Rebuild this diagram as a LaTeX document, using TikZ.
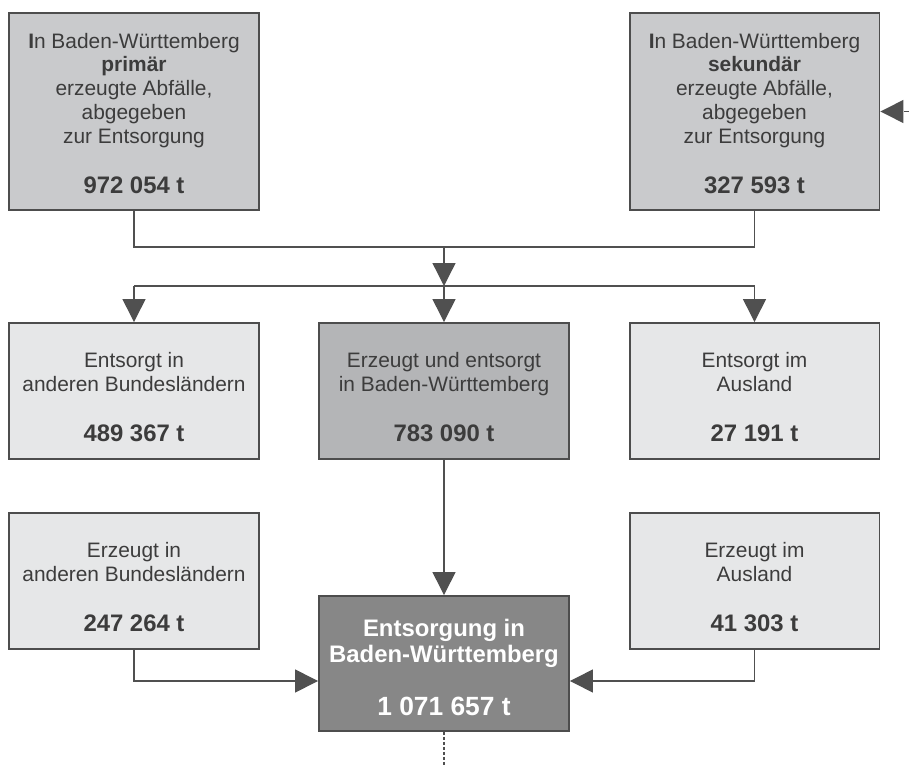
\documentclass[tikz,border=0pt]{standalone}
\usepackage{fontspec}
\setmainfont{Liberation Sans}
\usepackage{xcolor}
\usetikzlibrary{arrows.meta, positioning}

\definecolor{rand}{HTML}{4D4D4D}
\definecolor{strich}{HTML}{505050}
\definecolor{schrift}{HTML}{3C3C3C}
\definecolor{grauA}{HTML}{C9CACC}
\definecolor{grauB}{HTML}{B4B5B7}
\definecolor{grauC}{HTML}{E6E7E8}
\definecolor{grauD}{HTML}{878787}

\tikzset{
	kasten/.style={draw=rand, line width=1.1pt, minimum width=5cm, inner sep=0pt},
	hoch/.style={kasten, minimum height=3.94cm},
	flach/.style={kasten, minimum height=2.72cm},
	txt/.style={align=center, text=schrift, inner sep=0pt, font=\fontsize{11.9}{13.5}\selectfont},
	linie/.style={draw=strich, line width=0.75pt},
	fluss/.style={linie, -{Triangle[length=0.46cm,width=0.46cm]}},
}
\newcommand{\tonnen}[1]{{\fontsize{13.6}{13.5}\selectfont\bfseries #1}}

\begin{document}
\begin{tikzpicture}[x=0.02cm, y=-0.02cm]
	\useasboundingbox (0,0) rectangle (909,767);
	
	\begin{scope}
		\node[hoch, fill=grauA] (prim) at (134,111.5) {};
		\node[hoch, fill=grauA] (sek) at (754.5,111.5) {};
		
		\node[flach, fill=grauC] (ausL) at (134,391) {};
		\node[flach, fill=grauB] (bw) at (444,391) {};
		\node[flach, fill=grauC] (ausR) at (754.5,391) {};
		
		\node[flach, fill=grauC] (erzL) at (134,581) {};
		\node[flach, fill=grauC] (erzR) at (754.5,581) {};
		\node[kasten, minimum height=2.7cm, fill=grauD] (ges) at (444,663.5) {};
	\end{scope}
	
	\begin{scope}
		\node[txt] (prim-t) at ([yshift=-0.04cm]prim.center) {\textbf{I}n Baden-Württemberg\\ \textbf{primär}\\ erzeugte Abfälle,\\ abgegeben\\ zur Entsorgung\\[15.3pt] \tonnen{972 054 t}};
		\node[txt] (sek-t) at ([yshift=-0.04cm]sek.center) {\textbf{I}n Baden-Württemberg\\ \textbf{sekundär}\\ erzeugte Abfälle,\\ abgegeben\\ zur Entsorgung\\[15.3pt] \tonnen{327 593 t}};
		
		\node[txt] (ausL-t) at ([yshift=-0.12cm]ausL.center) {Entsorgt in\\ anderen Bundesländern\\[15.3pt] \tonnen{489 367 t}};
		\node[txt] (bw-t) at ([yshift=-0.12cm]bw.center) {Erzeugt und entsorgt\\ in Baden-Württemberg\\[15.3pt] \tonnen{783 090 t}};
		\node[txt] (ausR-t) at ([yshift=-0.12cm]ausR.center) {Entsorgt im\\ Ausland\\[15.3pt] \tonnen{27 191 t}};
		
		\node[txt] (erzL-t) at ([yshift=-0.12cm]erzL.center) {Erzeugt in\\ anderen Bundesländern\\[15.3pt] \tonnen{247 264 t}};
		\node[txt] (erzR-t) at ([yshift=-0.12cm]erzR.center) {Erzeugt im\\ Ausland\\[15.3pt] \tonnen{41 303 t}};
		\node[txt, text=white, font=\fontsize{13.6}{14.7}\selectfont\bfseries] (ges-t) at ([yshift=-0.08cm]ges.center) {Entsorgung in\\ Baden-Württemberg\\[15.9pt] {\fontsize{15}{14.7}\selectfont 1 071 657 t}};
	\end{scope}
	
	\coordinate (j1) at (444,247);
	\coordinate (j2) at (444,286);
	\coordinate (zu) at (909,111.5);
	\coordinate (ab) at (444,767);
	
	\begin{scope}
		\draw[linie] (prim.south) |- (j1) -| (sek.south);
		\draw[fluss] (j1) -- (j2);
		\draw[linie] (ausL.north |- j2) -- (ausR.north |- j2);
		\draw[fluss] (ausL.north |- j2) -- (ausL.north);
		\draw[fluss] (j2) -- (bw.north);
		\draw[fluss] (ausR.north |- j2) -- (ausR.north);
		\draw[fluss, dashed] (zu) -- (sek.east);
		
		\draw[fluss] (bw.south) -- (ges.north);
		\draw[fluss] (erzL.south) |- ([yshift=-0.35cm]ges.west);
		\draw[fluss] (erzR.south) |- ([yshift=-0.35cm]ges.east);
		\draw[linie, dash pattern=on 0.06cm off 0.04cm] (ges.south) -- (ab);
	\end{scope}
\end{tikzpicture}
\end{document}
